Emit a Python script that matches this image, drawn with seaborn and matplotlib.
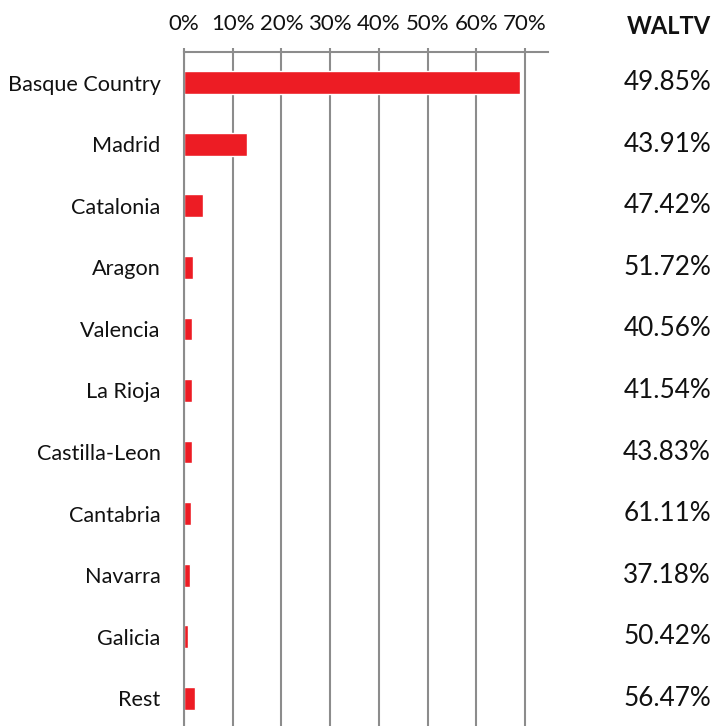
import matplotlib
matplotlib.use("Agg")
import matplotlib.pyplot as plt
import matplotlib.transforms as mtransforms
import seaborn as sns
import pandas as pd
from matplotlib.ticker import FixedLocator, PercentFormatter

regions = ["Basque Country", "Madrid", "Catalonia", "Aragon", "Valencia",
           "La Rioja", "Castilla-Leon", "Cantabria", "Navarra", "Galicia", "Rest"]
share = [0.690, 0.130, 0.040, 0.0185, 0.017, 0.016, 0.0157, 0.0144, 0.0123, 0.008, 0.022]
waltv = ["49.85%", "43.91%", "47.42%", "51.72%", "40.56%", "41.54%",
         "43.83%", "61.11%", "37.18%", "50.42%", "56.47%"]
x_ticks = [0.0, 0.1, 0.2, 0.3, 0.4, 0.5, 0.6, 0.7]
header = "WALTV"

df = pd.DataFrame({"region": regions, "share": share})

sns.set_style("white")
plt.rcParams["font.family"] = ["Lato", "DejaVu Sans"]

W, H = 718, 726
fig = plt.figure(figsize=(W / 100, H / 100), dpi=100)
ax_left, ax_right, ax_top, ax_bot = 184, 548, 52, 729
ax = fig.add_axes([ax_left / W, (H - ax_bot) / H, (ax_right - ax_left) / W, (ax_bot - ax_top) / H])

grid_col = "#8c8c8c"
text_col = "#111111"
sns.barplot(data=df, x="share", y="region", orient="h", color="#ED1C24",
            width=0.37, saturation=1, ax=ax, zorder=3)

ax.set_xlim(0, 0.747)
ax.set_ylim(len(regions) - 0.5, -0.5)

# x axis on top
ax.xaxis.set_ticks_position("top")
ax.xaxis.set_label_position("top")
ax.set_xticks(x_ticks)
ax.xaxis.set_major_formatter(PercentFormatter(1.0, decimals=0))
ax.tick_params(axis="x", direction="out", length=3, width=1.5, color=grid_col,
               labelsize=16, pad=10, labelcolor=text_col)
ax.grid(axis="x", color=grid_col, linewidth=1.5, zorder=0)
ax.set_axisbelow(True)

# y axis: ticks at boundaries, labels at centers
n = len(regions)
ax.yaxis.set_major_locator(FixedLocator([i + 0.5 for i in range(-1, n)]))
ax.yaxis.set_minor_locator(FixedLocator(list(range(n))))
ax.set_yticklabels([""] * (n + 1))
ax.set_yticklabels(regions, minor=True)
ax.tick_params(axis="y", which="major", direction="out", length=7, width=1.5, color=grid_col)
ax.tick_params(axis="y", which="minor", length=0, labelsize=15.6, pad=17, labelcolor=text_col)

ax.set_xlabel("")
ax.set_ylabel("")

for s in ["right", "bottom"]:
    ax.spines[s].set_visible(False)
for s in ["left", "top"]:
    ax.spines[s].set_color(grid_col)
    ax.spines[s].set_linewidth(1.5)
ax.spines["left"].set_zorder(4)

# WALTV column
xr = 711 / W
blend = mtransforms.blended_transform_factory(fig.transFigure, ax.transData)
for i, v in enumerate(waltv):
    ax.text(xr, i, v, transform=blend, ha="right", va="center",
            fontsize=18.8, color=text_col)
fig.text(xr, 1 - 27 / H, header, ha="right", va="center", fontsize=17,
         fontweight="bold", color=text_col)

fig.savefig("out.png", dpi=100)
